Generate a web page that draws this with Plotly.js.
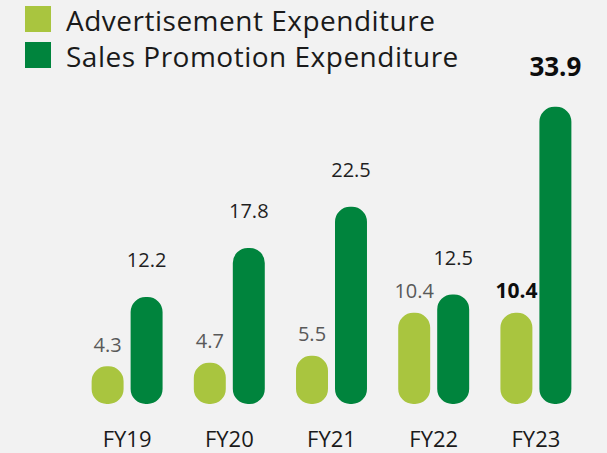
<!DOCTYPE html>
<html>
<head>
<meta charset="utf-8">
<script src="https://cdn.plot.ly/plotly-3.0.1.min.js"></script>
<style>html,body{margin:0;padding:0;background:#f2f2f2;}</style>
</head>
<body>
<div id="chart" style="width:607px;height:453px;"></div>
<script>
// ---- data ----
var categories = ['FY19', 'FY20', 'FY21', 'FY22', 'FY23'];
var advertisement = [4.3, 4.7, 5.5, 10.4, 10.4];
var salesPromotion = [12.2, 17.8, 22.5, 12.5, 33.9];
var seriesNames = ['Advertisement Expenditure', 'Sales Promotion Expenditure'];

// ---- styles ----
var LIGHT = '#a9c53f';
var DARK = '#00843d';
var BG = '#f2f2f2';
var FONT = '"Open Sans", "Noto Sans", sans-serif';
var M = {l: 76, r: 20, t: 20, b: 49};
var W = 607, H = 453;
var PW = W - M.l - M.r, PH = H - M.t - M.b;
function px(x) { return (x - M.l) / PW; }
function py(y) { return (H - M.b - y) / PH; }

function pillTrace(vals, color, group) {
  // an explicit base makes Plotly round all four corners -> pill shaped bar
  return {
    type: 'bar', x: categories, y: vals, base: 0, offsetgroup: group,
    marker: {color: color, cornerradius: '50%', line: {width: 0}},
    hoverinfo: 'skip', showlegend: false
  };
}

function labels(vals) {
  return vals.map(function (v, i) {
    var s = v.toFixed(1);
    return i === categories.length - 1 ? '<b>' + s + '</b>' : s;
  });
}

var traces = [pillTrace(advertisement, LIGHT, 'a'), pillTrace(salesPromotion, DARK, 's')];

traces.push({
  type: 'scatter', mode: 'markers+text', x: categories, y: advertisement,
  offsetgroup: 'a', text: labels(advertisement), textposition: 'top center',
  marker: {size: 14, opacity: 0},
  textfont: {family: FONT, size: advertisement.map(function (v, i) { return i === 4 ? 21 : 20; }),
    color: advertisement.map(function (v, i) { return i === 4 ? '#0d0d0d' : '#595959'; })},
  cliponaxis: false, hoverinfo: 'skip', showlegend: false
});
traces.push({
  type: 'scatter', mode: 'markers+text', x: categories, y: salesPromotion,
  offsetgroup: 's', text: labels(salesPromotion), textposition: 'top center',
  marker: {size: 38, opacity: 0},
  textfont: {family: FONT, size: salesPromotion.map(function (v, i) { return i === 4 ? 26 : 20; }),
    color: salesPromotion.map(function (v, i) { return i === 4 ? '#0d0d0d' : '#1f1f1f'; })},
  cliponaxis: false, hoverinfo: 'skip', showlegend: false
});

var legendColors = [LIGHT, DARK];
var legendRows = [19, 55];
var shapes = legendRows.map(function (cy, i) {
  return {type: 'rect', xref: 'paper', yref: 'paper',
    x0: px(25), x1: px(51), y0: py(cy - 13), y1: py(cy + 13),
    fillcolor: legendColors[i], line: {width: 0}};
});
var annotations = legendRows.map(function (cy, i) {
  return {xref: 'paper', yref: 'paper', x: px(64), y: py(cy + 1),
    xanchor: 'left', yanchor: 'middle', showarrow: false,
    text: '<span style="letter-spacing:0.5px">' + seriesNames[i] + '</span>',
    font: {family: FONT, size: 28, color: '#1a1a1a'}};
});

var layout = {
  width: W, height: H,
  margin: M,
  paper_bgcolor: BG, plot_bgcolor: BG,
  barmode: 'group', bargap: 0.237, bargroupgap: 0.18,
  scattermode: 'group', scattergap: 0.237,
  showlegend: false,
  xaxis: {type: 'category', range: [-0.5, 4.5], showgrid: false, zeroline: false,
    showline: false, ticks: '', ticklabelstandoff: 20,
    tickfont: {family: FONT, size: 22, color: '#1a1a1a'}, fixedrange: true},
  yaxis: {range: [0, 43.8], visible: false, showgrid: false, zeroline: false, fixedrange: true},
  shapes: shapes,
  annotations: annotations
};

Plotly.newPlot('chart', traces, layout, {staticPlot: true, displayModeBar: false});
</script>
</body>
</html>
